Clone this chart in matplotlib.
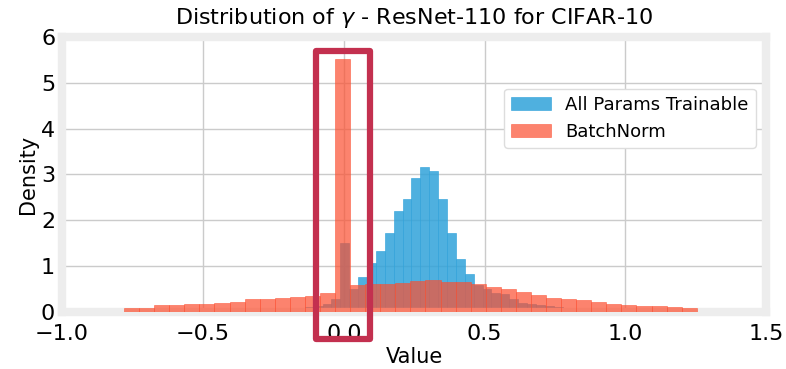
import matplotlib
matplotlib.use("Agg")
import matplotlib.pyplot as plt
import numpy as np
from matplotlib.patches import Rectangle

# ------------------------------------------------------------
# Histogram data (density per bin)
# ------------------------------------------------------------
# all parameters trainable: 35 bins from -0.2018 to 0.9028
trainable_range = (-0.2018, 0.9028)
trainable_density = [
    0.06, 0.08, 0.10, 0.13, 0.18, 0.27, 1.51, 0.50, 0.75, 1.07,
    1.33, 1.71, 2.20, 2.46, 2.93, 3.15, 3.08, 2.46, 1.71, 1.16,
    0.83, 0.58, 0.50, 0.42, 0.38, 0.27, 0.20, 0.16, 0.14, 0.12,
    0.10, 0.09, 0.08, 0.07, 0.05,
]

# batchnorm only: 38 bins from -0.78 to 1.253
batchnorm_range = (-0.78, 1.253)
batchnorm_density = [
    0.08, 0.09, 0.14, 0.15, 0.17, 0.17, 0.20, 0.22, 0.28, 0.28,
    0.30, 0.33, 0.35, 0.41, 5.52, 0.59, 0.60, 0.60, 0.62, 0.68,
    0.70, 0.66, 0.65, 0.61, 0.55, 0.49, 0.44, 0.36, 0.31, 0.28,
    0.25, 0.22, 0.18, 0.15, 0.13, 0.12, 0.10, 0.08,
]

series_labels = ["All Params Trainable", "BatchNorm"]
x_ticks = [-1.0, -0.5, 0.0, 0.5, 1.0, 1.5]
y_ticks = [0, 1, 2, 3, 4, 5, 6]


def main() -> None:
    plt.style.use("fivethirtyeight")
    plt.rcParams["font.family"] = ["DejaVu Sans"]

    fig = plt.figure(figsize=(7.86, 3.69), dpi=100, facecolor="white")
    ax = fig.add_axes([0.079, 0.155, 0.896, 0.745])
    ax.set_facecolor("white")

    blue = "#30a2da"
    red = "#fc4f30"

    t_edges = np.linspace(*trainable_range, len(trainable_density) + 1)
    b_edges = np.linspace(*batchnorm_range, len(batchnorm_density) + 1)

    ax.hist(t_edges[:-1], bins=t_edges, weights=trainable_density,
            color=blue, alpha=0.85, edgecolor=blue, linewidth=0.5,
            label=series_labels[0], zorder=2)
    ax.hist(b_edges[:-1], bins=b_edges, weights=batchnorm_density,
            color=red, alpha=0.7, edgecolor=red, linewidth=0.5,
            label=series_labels[1], zorder=3)

    ax.set_xlim(-1.0, 1.5)
    ax.set_ylim(0, 6)
    ax.set_xticks(x_ticks)
    ax.set_yticks(y_ticks)
    ax.tick_params(labelsize=16, length=0)
    ax.tick_params(axis="x", pad=9)
    ax.tick_params(axis="y", pad=5)
    ax.grid(True, color="#cbcbcb", linewidth=1.0)
    for sp in ax.spines.values():
        sp.set_color("#ededed")
        sp.set_linewidth(6)

    ax.set_title(r"Distribution of $\gamma$ - ResNet-110 for CIFAR-10",
                 fontsize=16, pad=9)
    ax.set_xlabel("Value", fontsize=15, labelpad=2)
    ax.set_ylabel("Density", fontsize=15, labelpad=2)

    leg = ax.legend(loc="upper right", bbox_to_anchor=(0.998, 0.845),
                    fontsize=13, frameon=True, facecolor="white",
                    edgecolor="#dddddd", framealpha=1.0, handlelength=2.2)
    leg.get_frame().set_linewidth(1.0)

    # highlight box around the zero spike
    box = Rectangle((-0.1, -0.6), 0.193, 6.3, fill=False,
                    edgecolor="#c3304f", linewidth=4.5, joinstyle="round",
                    clip_on=False, zorder=5)
    ax.add_patch(box)

    fig.savefig("out.png", dpi=100, facecolor="white")
    plt.close(fig)


if __name__ == "__main__":
    main()
